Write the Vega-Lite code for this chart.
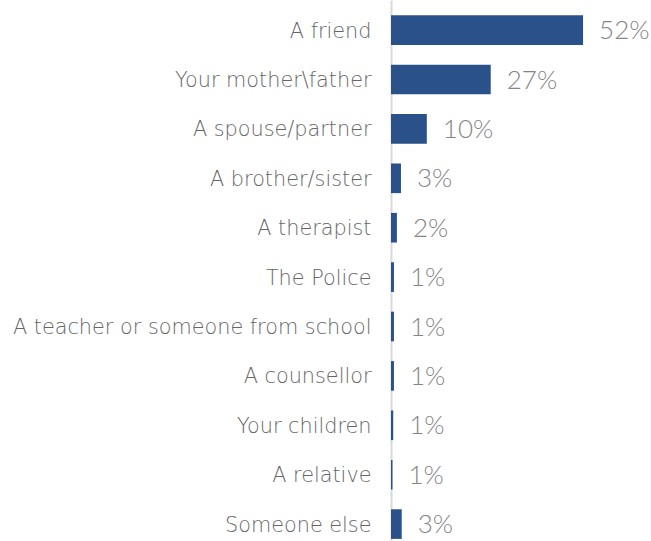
{
  "$schema": "https://vega.github.io/schema/vega-lite/v6.json",
  "width": 260,
  "height": 541,
  "autosize": {"type": "none"},
  "padding": {"left": 391, "top": 0, "right": 0, "bottom": 0},
  "background": "white",
  "config": {"view": {"stroke": null}, "font": "Lato"},
  "data": {"values": [
    {"who": "A friend", "value": 52, "label": "52%"},
    {"who": "Your mother\\father", "value": 27, "label": "27%"},
    {"who": "A spouse/partner", "value": 9.7, "label": "10%"},
    {"who": "A brother/sister", "value": 2.7, "label": "3%"},
    {"who": "A therapist", "value": 1.6, "label": "2%"},
    {"who": "The Police", "value": 0.8, "label": "1%"},
    {"who": "A teacher or someone from school", "value": 0.8, "label": "1%"},
    {"who": "A counsellor", "value": 0.8, "label": "1%"},
    {"who": "Your children", "value": 0.6, "label": "1%"},
    {"who": "A relative", "value": 0.4, "label": "1%"},
    {"who": "Someone else", "value": 2.9, "label": "3%"}
  ]},
  "encoding": {
    "y": {
      "field": "who", "type": "nominal", "sort": null,
      "scale": {"paddingInner": 0.4, "paddingOuter": 0.176, "align": 0.88},
      "axis": {
        "title": null, "ticks": false, "labelPadding": 20,
        "labelFontSize": 20.8, "labelColor": "#666666", "labelFont": "DejaVu Sans",
        "labelFontWeight": 200, "labelOffset": 1.5,
        "domainColor": "#d9d9d9", "domainWidth": 2, "labelLimit": 420
      }
    },
    "x": {
      "field": "value", "type": "quantitative",
      "scale": {"domain": [0, 70.4], "nice": false},
      "axis": null
    }
  },
  "layer": [
    {"mark": {"type": "bar", "color": "#2A5189"}},
    {"mark": {"type": "text", "align": "left", "dx": 16, "dy": 1, "fontSize": 26, "fontWeight": 300, "color": "#858585", "font": "Lato"},
     "encoding": {"text": {"field": "label"}}}
  ]
}
